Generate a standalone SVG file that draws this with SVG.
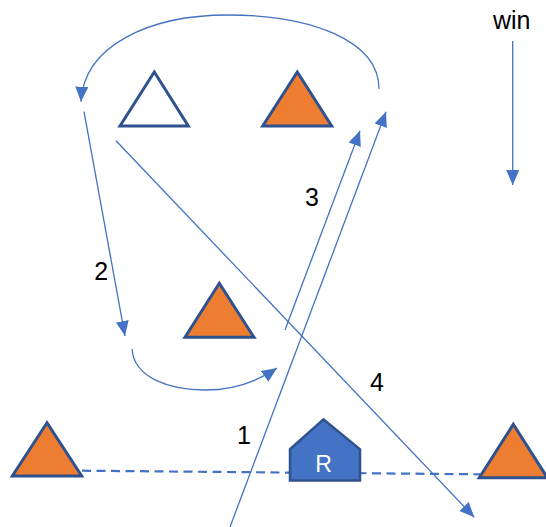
<svg xmlns="http://www.w3.org/2000/svg" width="546" height="527" viewBox="0 0 546 527">
<defs>
<marker id="ah" markerUnits="userSpaceOnUse" markerWidth="15" markerHeight="13" refX="15" refY="6.5" orient="auto" viewBox="0 0 15 13">
<path d="M0,0 L15,6.5 L0,13 z" fill="#4472C4"/>
</marker>
<style>
.tri{fill:#ED7D31;stroke:#2F528F;stroke-width:3;stroke-linejoin:miter}
.tri-w{fill:#FFFFFF;stroke:#2F528F;stroke-width:3}
.ln{fill:none;stroke:#4472C4;stroke-width:1.3}
.lbl{font-family:"Liberation Sans",Arial,sans-serif;font-size:25px;fill:#000;text-anchor:middle}
</style>
</defs>
<rect width="546" height="527" fill="#FFFFFF"/>
<g id="connectors">
<line x1="82" y1="470.7" x2="480" y2="474.3" stroke="#4472C4" stroke-width="2.2" stroke-dasharray="9,5.5"/>
<path class="ln" d="M379,89 C379,40 310,15 228,15 C150,15 84,45 81,101.7" marker-end="url(#ah)"/>
<line class="ln" x1="84" y1="111.7" x2="125" y2="336" marker-end="url(#ah)"/>
<path class="ln" d="M132,349 C134,378 170,390 205,390 C235,390 258,381 277,368" marker-end="url(#ah)"/>
<line class="ln" x1="285" y1="330" x2="360" y2="130.7" marker-end="url(#ah)"/>
<line class="ln" x1="230" y1="527" x2="386" y2="111.7" marker-end="url(#ah)"/>
<line class="ln" x1="116" y1="140.7" x2="474.3" y2="517.3" marker-end="url(#ah)"/>
<line class="ln" x1="512.7" y1="41" x2="512.7" y2="185" marker-end="url(#ah)"/>
</g>
<g id="tri-top-left"><polygon class="tri-w" points="154.3,72 120,126 188.3,126"/></g>
<g id="tri-top-right"><polygon class="tri" points="297.3,72 262.7,126 331.7,126"/></g>
<g id="tri-middle"><polygon class="tri" points="219.3,283.3 185,337.3 254,337.3"/></g>
<g id="tri-bottom-left"><polygon class="tri" points="47,422.7 12.3,476 81.7,476"/></g>
<g id="tri-bottom-right"><polygon class="tri" points="513.3,424.3 479.3,477.7 547.3,477.7"/></g>
<g id="house-R">
<polygon points="290,449.3 323.5,419.3 360,449.3 360,480.5 290,480.5" fill="#4472C4" stroke="#2F528F" stroke-width="2.5"/>
<text x="323.5" y="471.7" font-family="'Liberation Sans',Arial,sans-serif" font-size="23" fill="#FFFFFF" text-anchor="middle">R</text>
</g>
<g id="labels">
<text class="lbl" x="511.7" y="29.3">win</text>
<text class="lbl" x="101.3" y="280">2</text>
<text class="lbl" x="312" y="206">3</text>
<text class="lbl" x="244" y="444">1</text>
<text class="lbl" x="377" y="391">4</text>
</g>
</svg>
